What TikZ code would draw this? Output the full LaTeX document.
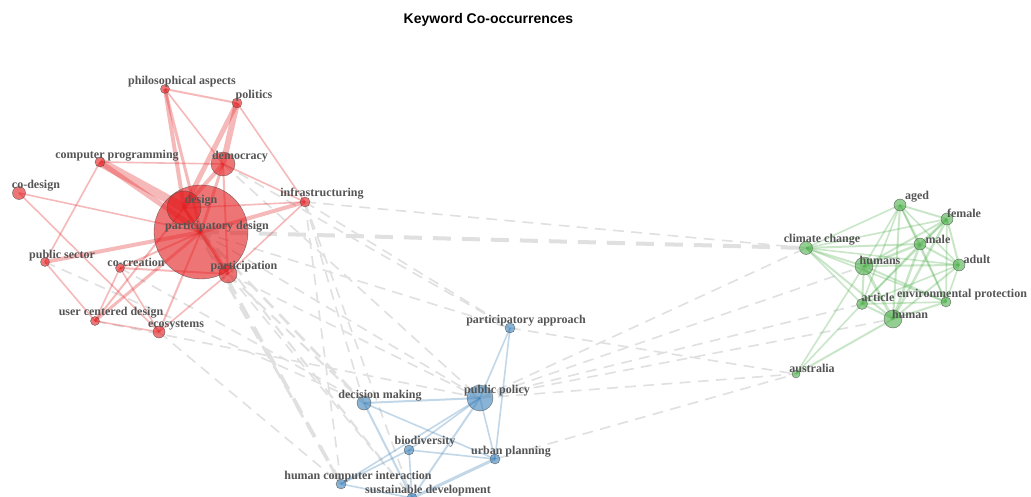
\documentclass[tikz,border=0pt]{standalone}
\usepackage{fontspec}
\setmainfont{Liberation Serif}
\newfontfamily\titlefont{Liberation Sans}
\pgfdeclarelayer{paper}
\pgfdeclarelayer{links}
\pgfsetlayers{paper,links,main}
\definecolor{redk}{HTML}{E41A1C}
\definecolor{bluek}{HTML}{377EB8}
\definecolor{greenk}{HTML}{4DAF4A}
\definecolor{linkgray}{HTML}{E0E0E0}
\definecolor{labelgray}{HTML}{555555}
\tikzset{
  kw/.style={circle, inner sep=0pt, minimum size=#1, draw=black!70, draw opacity=0.8,
             line width=0.4pt, fill opacity=0.6},
  redkw/.style={kw=#1, fill=redk},
  bluekw/.style={kw=#1, fill=bluek, fill opacity=0.58},
  greenkw/.style={kw=#1, fill=greenk, fill opacity=0.6},
  lbl/.style={font=\bfseries\fontsize{12}{14}\selectfont, text=labelgray, inner sep=0pt},
  redlink/.style={draw=redk, draw opacity=0.3, line width=#1},
  bluelink/.style={draw=bluek, draw opacity=0.3, line width=#1},
  greenlink/.style={draw=greenk, draw opacity=0.3, line width=#1},
  crosslink/.style={draw=linkgray, line width=#1},
}
\begin{document}
\begin{tikzpicture}[x=1pt, y=-1pt]
\useasboundingbox (0,0) rectangle (1031,497);
\begin{pgfonlayer}{paper}
\fill[white] (0,0) rectangle (1031,497);
\end{pgfonlayer}

\node[font=\titlefont\bfseries\fontsize{14}{16}\selectfont, inner sep=0pt] (title) at (488.5,20) {Keyword Co-occurrences};

% keyword circles: red cluster
\node[redkw=94pt] (pd)  at (201,232) {};
\node[redkw=34pt] (de)  at (184,208) {};
\node[redkw=24pt] (dem) at (223,164) {};
\node[redkw=9pt]  (pa)  at (165,89)  {};
\node[redkw=10pt] (pol) at (237,103) {};
\node[redkw=10pt] (cp)  at (100,162) {};
\node[redkw=13pt] (cod) at (19,193)  {};
\node[redkw=10pt] (inf) at (305,202) {};
\node[redkw=9pt]  (ps)  at (45,262)  {};
\node[redkw=9pt]  (coc) at (120,268) {};
\node[redkw=18pt] (par) at (228,274) {};
\node[redkw=9pt]  (ucd) at (95,321)  {};
\node[redkw=12pt] (eco) at (159,332) {};

% blue cluster
\node[bluekw=10pt] (pap) at (510,328) {};
\node[bluekw=26pt] (pp)  at (480,398) {};
\node[bluekw=14pt] (dm)  at (364,403) {};
\node[bluekw=10pt] (bio) at (409,450) {};
\node[bluekw=10pt] (up)  at (495,459) {};
\node[bluekw=10pt] (hci) at (341,484) {};
\node[bluekw=10pt] (sd)  at (412,498) {};

% green cluster
\node[greenkw=12pt] (aged) at (900,205) {};
\node[greenkw=12pt] (fem)  at (947,219) {};
\node[greenkw=13pt] (cc)   at (806,248) {};
\node[greenkw=12pt] (male) at (920,244) {};
\node[greenkw=18pt] (hs)   at (864,266) {};
\node[greenkw=12pt] (ad)   at (959,265) {};
\node[greenkw=11pt] (art)  at (862,304) {};
\node[greenkw=10pt] (ep)   at (946,302) {};
\node[greenkw=18pt] (hu)   at (893,319) {};
\node[greenkw=8pt]  (au)   at (796,374) {};

\begin{pgfonlayer}{links}
% links between clusters (dashed, grey)
\foreach \a/\b/\w in {pd/cc/4, inf/cc/1.6, inf/pap/1.6, inf/hci/1.6, inf/sd/1.6, inf/dm/1.6,
    dem/pap/1.6, dem/pp/1.6, pd/pap/1.6, pd/dm/2.6, pd/pp/1.6, pd/hci/3.6, pd/sd/2,
    de/hci/2.6, par/dm/2, par/pp/1.6, par/sd/1.6, ps/dm/1.6, ucd/pp/1.6, eco/hci/1.6,
    coc/dm/1.6, pp/cc/1.6, pp/hs/1.6, pp/art/1.6, pp/hu/1.6, pp/au/1.6, pap/au/1.6, up/au/1.6}
{
  \pgfmathsetmacro\don{6+3*\w}
  \pgfmathsetmacro\doff{5+1.5*\w}
  \draw[crosslink=\w pt, dash pattern=on \don pt off \doff pt] (\a.center) -- (\b.center);
}
% red cluster links
\foreach \a/\b/\w in {cp/de/9, cp/pd/5, pa/de/4, pa/pd/3, pa/pol/2, pa/dem/1.6, pol/dem/6,
    pol/de/5, pol/inf/1.6, dem/de/4, dem/pd/3, dem/inf/1.6, dem/cp/1.6, dem/par/2, de/pd/3,
    de/inf/1.6, pd/inf/4, par/inf/1.6, cod/pd/1.6, cod/eco/1.6, pd/ps/4, pd/coc/2, pd/par/4,
    pd/ucd/3, pd/eco/2, ps/ucd/1.6, cp/ps/1.6, coc/par/2, coc/ucd/1.6, coc/eco/1.6,
    ucd/eco/1.6, par/eco/1.6, de/ucd/2, de/par/2}
  \draw[redlink=\w pt] (\a.center) -- (\b.center);
% blue cluster links
\foreach \a/\b/\w in {pap/pp/1.6, pap/up/1.6, pp/dm/2, pp/bio/1.6, pp/up/1.6, pp/sd/2,
    pp/hci/1.6, dm/up/1.6, dm/sd/2, bio/up/1.6, bio/sd/1.6, bio/hci/1.6, up/sd/3, hci/sd/1.6}
  \draw[bluelink=\w pt] (\a.center) -- (\b.center);
% green cluster links
\foreach \a/\b/\w in {cc/aged/1.6, cc/fem/1.6, cc/male/2, cc/hs/2, cc/ad/1.6, cc/art/1.6,
    cc/ep/1.6, cc/hu/2, aged/fem/2, aged/male/2, aged/hs/1.6, aged/ad/1.6, aged/art/1.6,
    aged/ep/1.6, aged/hu/2, fem/male/2.5, fem/hs/2, fem/ad/2, fem/art/1.6, fem/ep/1.6,
    fem/hu/2.5, male/hs/2.5, male/ad/2, male/art/1.6, male/ep/1.6, male/hu/2.5, hs/ad/2,
    hs/art/2, hs/ep/2, hs/hu/3, ad/art/1.6, ad/ep/1.6, ad/hu/2, art/ep/1.6, art/hu/2,
    ep/hu/2, au/hs/1.6, au/art/1.6, au/hu/2}
  \draw[greenlink=\w pt] (\a.center) -- (\b.center);
\end{pgfonlayer}

% keyword labels
\node[lbl] (pd-l)  at (217,227) {participatory design};
\node[lbl] (de-l)  at (201,201) {design};
\node[lbl] (dem-l) at (240,157) {democracy};
\node[lbl] (pa-l)  at (182,82)  {philosophical aspects};
\node[lbl] (pol-l) at (254,96)  {politics};
\node[lbl] (cp-l)  at (117,156) {computer programming};
\node[lbl] (cod-l) at (36,186)  {co-design};
\node[lbl] (inf-l) at (322,194) {infrastructuring};
\node[lbl] (ps-l)  at (62,256)  {public sector};
\node[lbl] (coc-l) at (136,262) {co-creation};
\node[lbl] (par-l) at (244,267) {participation};
\node[lbl] (ucd-l) at (111,313) {user centered design};
\node[lbl] (eco-l) at (176,325) {ecosystems};

\node[lbl] (pap-l) at (526,321) {participatory approach};
\node[lbl] (pp-l)  at (497,391) {public policy};
\node[lbl] (dm-l)  at (380,396) {decision making};
\node[lbl] (bio-l) at (425,442) {biodiversity};
\node[lbl] (up-l)  at (511,452) {urban planning};
\node[lbl] (hci-l) at (358,477) {human computer interaction};
\node[lbl] (sd-l)  at (428,491) {sustainable development};

\node[lbl] (aged-l) at (917,197) {aged};
\node[lbl] (fem-l)  at (964,213) {female};
\node[lbl] (cc-l)   at (822,240) {climate change};
\node[lbl] (male-l) at (938,239) {male};
\node[lbl] (hs-l)   at (880,260) {humans};
\node[lbl] (ad-l)   at (977,259) {adult};
\node[lbl] (art-l)  at (878,297) {article};
\node[lbl] (ep-l)   at (962,295) {environmental protection};
\node[lbl] (hu-l)   at (910,314) {human};
\node[lbl] (au-l)   at (812,368) {australia};
\end{tikzpicture}
\end{document}
